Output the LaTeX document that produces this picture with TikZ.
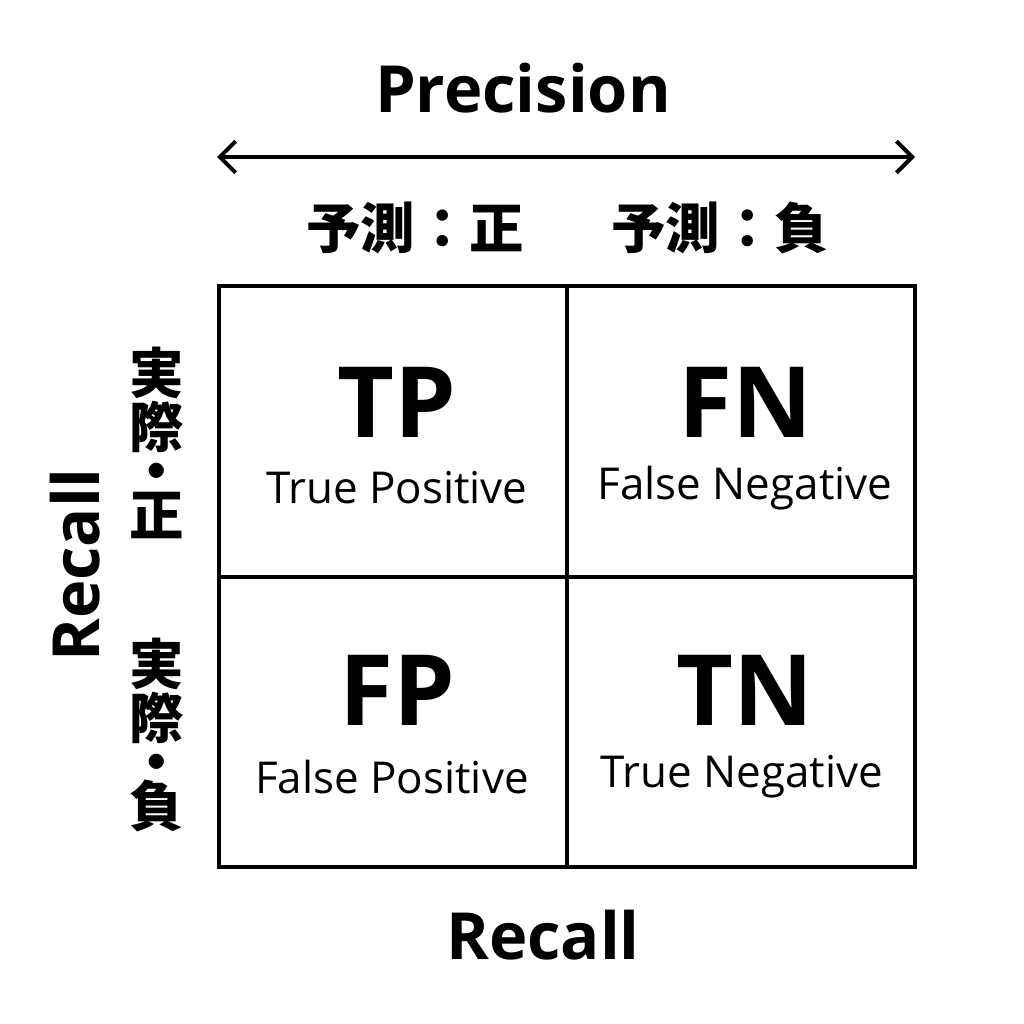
\documentclass[tikz,border=0pt]{standalone}
\usepackage{fontspec}
\setmainfont{Open Sans}
\newfontfamily\jp{Noto Sans CJK JP}
\usetikzlibrary{arrows.meta}
\tikzset{
  cell/.style={draw, line width=2pt},
  big/.style={font=\fontsize{56}{60}\selectfont\bfseries},
  small/.style={font=\fontsize{25}{26}\selectfont},
  head/.style={font=\jp\fontsize{31}{33}\selectfont\bfseries},
  side/.style={font=\jp\fontsize{31}{31}\selectfont\bfseries, align=center},
  axis/.style={font=\fontsize{37}{40}\selectfont\bfseries}
}
\begin{document}
\begin{tikzpicture}[x=0.02cm, y=-0.02cm]
	\useasboundingbox (0,0) rectangle (1024,1024);
	% grid
	\draw[cell] (219,286) rectangle (915,867);
	\draw[cell] (567,286) -- (567,867);
	\draw[cell] (219,577) -- (915,577);
	% axis labels
	\node[axis] (prec) at (523,88) {Precision};
	\coordinate (pl) at (217,157);
	\coordinate (pr) at (915,157);
	\draw[{Straight Barb[length=9pt,width=18pt]}-{Straight Barb[length=9pt,width=18pt]}, line width=2.3pt] (pl) -- (pr);
	\node[head] (predp) at (415,228) {予測：正};
	\node[head] (predn) at (720,228) {予測：負};
	\node[side] (actp) at (157,443) {実\\際\\[-6pt]・\\[-6pt]正};
	\node[side] (actn) at (157,735) {実\\際\\[-6pt]・\\[-6pt]負};
	\node[axis, rotate=90] (recl) at (75,565) {Recall};
	\node[axis] (recb) at (543,935) {Recall};
	% cells
	\node[big] (tp) at (397,402) {TP};
	\node[small] (tpt) at (397,488) {True Positive};
	\node[big] (fn) at (745,402) {FN};
	\node[small] (fnt) at (745,488) {False Negative};
	\node[big] (fp) at (397,690) {FP};
	\node[small] (fpt) at (392,777) {False Positive};
	\node[big] (tn) at (745,690) {TN};
	\node[small] (tnt) at (742,777) {True Negative};
\end{tikzpicture}
\end{document}
